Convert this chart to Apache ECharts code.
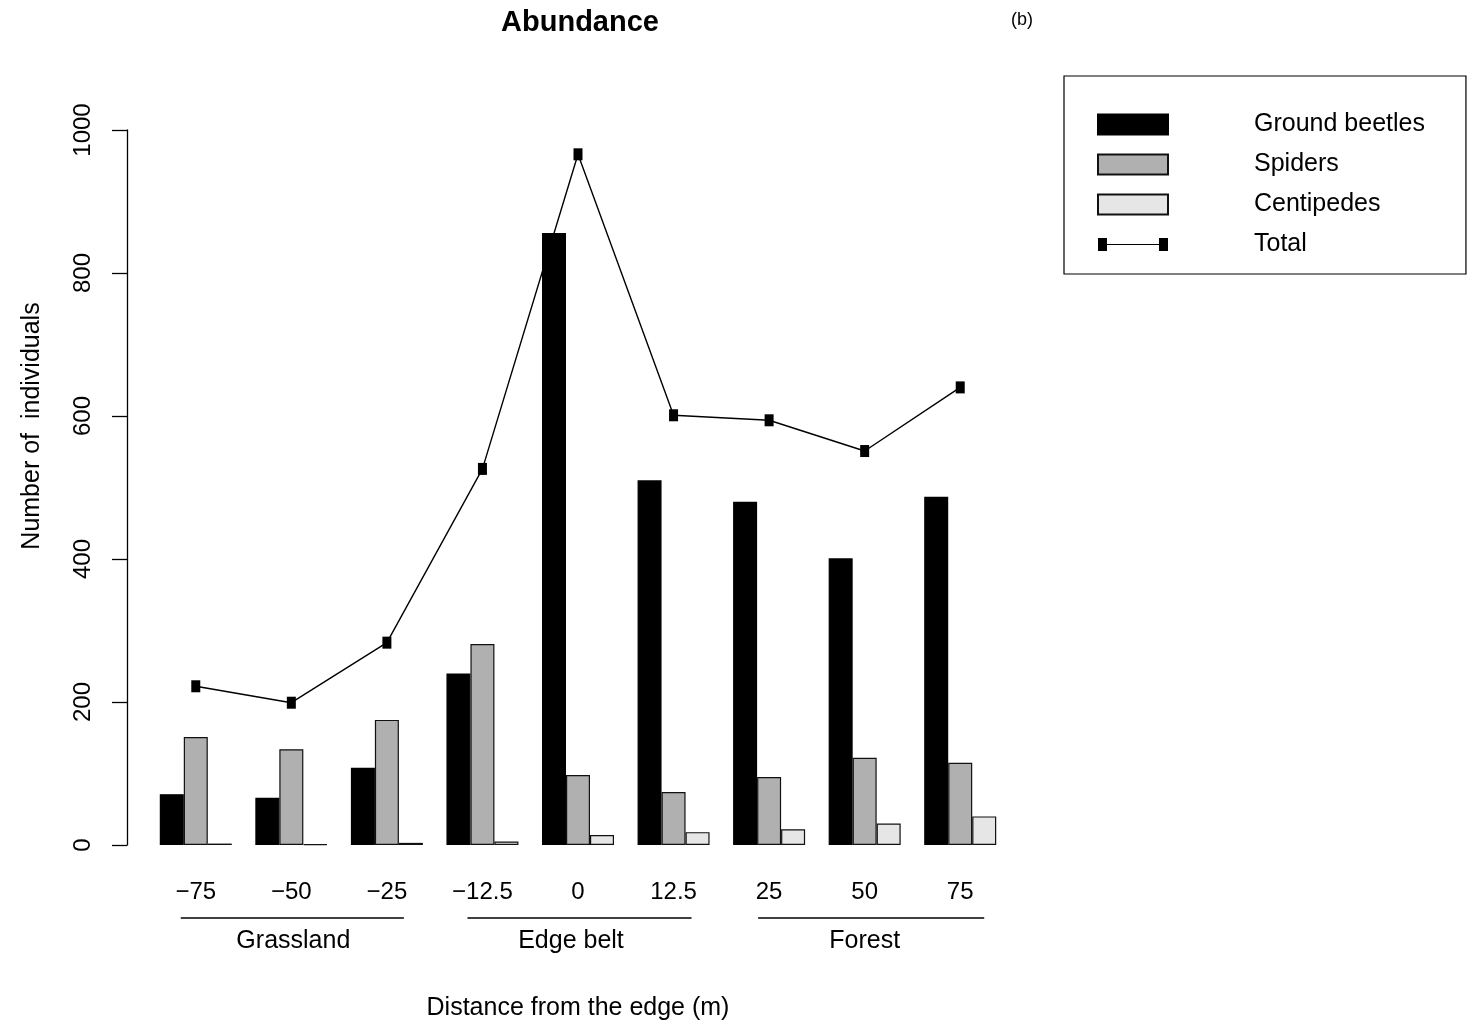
<!DOCTYPE html>
<html>
<head>
<meta charset="utf-8">
<script src="https://cdn.jsdelivr.net/npm/echarts@6/dist/echarts.min.js"></script>
<style>
html,body{margin:0;padding:0;background:#fff;}
#chart{width:1473px;height:1026px;}
</style>
</head>
<body>
<div id="chart"></div>
<script>
// ---- data ----
const categories = ['\u221275', '\u221250', '\u221225', '\u221212.5', '0', '12.5', '25', '50', '75'];
const groundBeetles = [71, 66, 108, 240, 856, 510, 480, 401, 487];
const spiders = [151, 134, 175, 281, 98, 74, 95, 122, 115];
const centipedes = [2, 1, 3, 5, 14, 18, 22, 30, 40];
const totals = [222, 199, 283, 526, 966, 601, 594, 551, 640];
const yTicks = [0, 200, 400, 600, 800, 1000];
const habitatNames = ['Grassland', 'Edge belt', 'Forest'];
const habitatFirst = [0, 3, 6];
const habitatMid = [1, 4, 7];
const habitatLast = [2, 5, 8];

// ---- styling (pixel nudges, not data) ----
const lineStartNudge = [-15, -15, -11];
const lineEndNudge = [17, 18, 24];
const labelNudge = [2, -7, 0];

const FONT = '"Liberation Sans", Arial, Helvetica, sans-serif';
const chart = echarts.init(document.getElementById('chart'), null, { renderer: 'canvas' });

const totalIcon = 'path://M0,3.5H9V16.5H0Z M9,9.4H61V10.6H9Z M61,3.5H70V16.5H61Z M0,0H0.01V0.01H0Z M69.99,19.99H70V20H69.99Z';

const option = {
  backgroundColor: '#fff',
  animation: false,
  textStyle: { fontFamily: FONT, color: '#000' },
  grid: { left: 148, right: 465, top: 130, bottom: 181, containLabel: false },
  legend: {
    orient: 'vertical',
    left: 1064,
    top: 76,
    padding: [36, 41, 17, 33],
    borderColor: '#000',
    borderWidth: 1.2,
    itemWidth: 70,
    itemHeight: 20,
    itemGap: 15,
    selectedMode: false,
    textStyle: { fontFamily: FONT, fontSize: 25, color: '#000', padding: [0, 0, 0, 81] },
    data: [
      { name: 'Ground beetles', icon: 'rect' },
      { name: 'Spiders', icon: 'rect' },
      { name: 'Centipedes', icon: 'rect' },
      { name: 'Total', icon: totalIcon }
    ]
  },
  xAxis: {
    type: 'category',
    data: categories,
    boundaryGap: true,
    axisLine: { show: false },
    axisTick: { show: false },
    axisLabel: { fontFamily: FONT, fontSize: 24, color: '#000', margin: 35, interval: 0 },
    splitLine: { show: false },
    name: 'Distance from the edge (m)',
    nameLocation: 'middle',
    nameGap: 151,
    nameTextStyle: { fontFamily: FONT, fontSize: 25, color: '#000' }
  },
  yAxis: {
    type: 'value',
    min: 0,
    max: 1000,
    interval: 200,
    offset: 21,
    axisLine: { show: true, lineStyle: { color: '#000', width: 1.3 } },
    axisTick: { show: true, length: 15, lineStyle: { color: '#000', width: 1.3 } },
    axisLabel: {
      fontFamily: FONT, fontSize: 24, color: '#000', rotate: 90, margin: 32,
      formatter: function (v) { return yTicks.indexOf(v) >= 0 ? String(v) : ''; }
    },
    splitLine: { show: false }
  },
  series: [
    {
      name: 'Ground beetles', type: 'bar', data: groundBeetles,
      barWidth: 24, barGap: '0%',
      itemStyle: { color: '#000', borderColor: '#000', borderWidth: 1.2 }
    },
    {
      name: 'Spiders', type: 'bar', data: spiders,
      barWidth: 24, barGap: '0%',
      itemStyle: { color: '#b0b0b0', borderColor: '#111', borderWidth: 1.2 }
    },
    {
      name: 'Centipedes', type: 'bar', data: centipedes,
      barWidth: 24, barGap: '0%',
      itemStyle: { color: '#e6e6e6', borderColor: '#111', borderWidth: 1.2 }
    },
    {
      name: 'Total', type: 'line', data: totals, z: 5,
      symbol: 'rect', symbolSize: [9, 12], showAllSymbol: true,
      lineStyle: { color: '#000', width: 1.4 },
      itemStyle: { color: '#000' }
    }
  ]
};

chart.setOption(option);

// group labels and underlines positioned via the category axis scale
const graphics = [
  { type: 'text', x: 580, y: 23, style: { text: 'Abundance', font: 'bold 29px ' + FONT, fill: '#000', textAlign: 'center', textVerticalAlign: 'middle' } },
  { type: 'text', x: 1022, y: 20, style: { text: '(b)', font: '18px ' + FONT, fill: '#000', textAlign: 'center', textVerticalAlign: 'middle' } },
  { type: 'text', x: 32, y: 426, rotation: Math.PI / 2, style: { text: 'Number of  individuals', font: '25px ' + FONT, fill: '#000', textAlign: 'center', textVerticalAlign: 'middle' } }
];
habitatNames.forEach(function (name, i) {
  const x1 = chart.convertToPixel({ xAxisIndex: 0 }, categories[habitatFirst[i]]);
  const x2 = chart.convertToPixel({ xAxisIndex: 0 }, categories[habitatLast[i]]);
  const xm = chart.convertToPixel({ xAxisIndex: 0 }, categories[habitatMid[i]]);
  graphics.push({ type: 'line', shape: { x1: x1 + lineStartNudge[i], y1: 918, x2: x2 + lineEndNudge[i], y2: 918 }, style: { stroke: '#000', lineWidth: 1.5 } });
  graphics.push({ type: 'text', x: xm + labelNudge[i], y: 941, style: { text: name, font: '25px ' + FONT, fill: '#000', textAlign: 'center', textVerticalAlign: 'middle' } });
});
chart.setOption({ graphic: graphics });
</script>
</body>
</html>
